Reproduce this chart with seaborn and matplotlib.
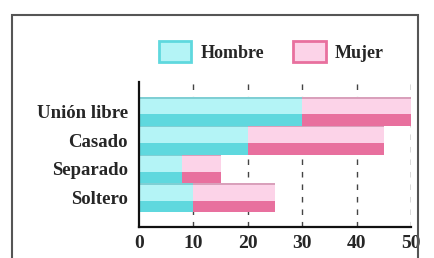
import numpy as np
import pandas as pd
import matplotlib.pyplot as plt
import seaborn as sns
from matplotlib.patches import Patch, Rectangle

# Data
estado = ['Unión libre', 'Casado', 'Separado', 'Soltero']
hombre = [30, 20, 8, 10]
mujer = [20, 25, 7, 15]
ticks = [0, 10, 20, 30, 40, 50]

df = pd.DataFrame({'estado': estado, 'hombre': hombre, 'mujer': mujer})
df['total'] = df['hombre'] + df['mujer']

sns.set_style('white')
plt.rcParams['font.family'] = ['Liberation Serif', 'DejaVu Serif']

cyan_l, cyan_d = '#b4f4f6', '#5fd8de'
pink_l, pink_d = '#fcd3e8', '#e8709e'

fig = plt.figure(figsize=(4.34, 2.58), dpi=100)
ax = fig.add_axes([0.320, 0.120, 0.627, 0.562])

# grid behind bars
for t in ticks[1:]:
    ax.axvline(t, color='#444444', lw=1, ls=(0, (4, 5)), zorder=0)

# stacked bars: total in pink, hombre in cyan on top
sns.barplot(data=df, x='total', y='estado', color=pink_l, width=1.0,
            saturation=1, ax=ax, zorder=2, linewidth=0)
sns.barplot(data=df, x='hombre', y='estado', color=cyan_l, width=1.0,
            saturation=1, ax=ax, zorder=3, linewidth=0)

# darker lower band to mimic the shaded bars
pos = np.arange(len(estado))
ax.barh(pos + 0.30, df['mujer'], left=df['hombre'], height=0.40,
        color=pink_d, zorder=4, lw=0)
ax.barh(pos + 0.30, df['hombre'], height=0.40, color=cyan_d, zorder=4, lw=0)
ax.barh(pos - 0.47, df['mujer'], left=df['hombre'], height=0.06,
        color='#d9a0bb', zorder=4, lw=0)
ax.barh(pos - 0.47, df['hombre'], height=0.06, color='#7fcfd4', zorder=4, lw=0)

ax.set_xlim(0, 50)
ax.set_ylim(4.02, -1.02)
ax.set_xticks(ticks)
ax.set_xlabel('')
ax.set_ylabel('')
ax.tick_params(axis='x', direction='in', length=4, width=1.2, labelsize=14, pad=6)
ax.tick_params(axis='y', length=0, labelsize=13.5, pad=8)
for lab in ax.get_yticklabels() + ax.get_xticklabels():
    lab.set_fontweight('bold')
for s in ['top', 'right']:
    ax.spines[s].set_visible(False)
for s in ['left', 'bottom']:
    ax.spines[s].set_color('#111111')
    ax.spines[s].set_linewidth(1.6)
    ax.spines[s].set_zorder(6)

handles = [Patch(facecolor=cyan_l, edgecolor=cyan_d, lw=2),
           Patch(facecolor=pink_l, edgecolor=pink_d, lw=2)]
fig.legend(handles, ['Hombre', 'Mujer'], loc='center', ncol=2,
           bbox_to_anchor=(0.625, 0.80), frameon=False,
           handlelength=1.8, handleheight=1.4, columnspacing=1.6,
           handletextpad=0.5, prop={'weight': 'bold', 'size': 13})

# outer frame
fig.patches.append(Rectangle((0.028, -0.05), 0.935, 0.99, transform=fig.transFigure,
                             fill=False, edgecolor='#555555', lw=1.5))

fig.savefig('out.png', dpi=100)
